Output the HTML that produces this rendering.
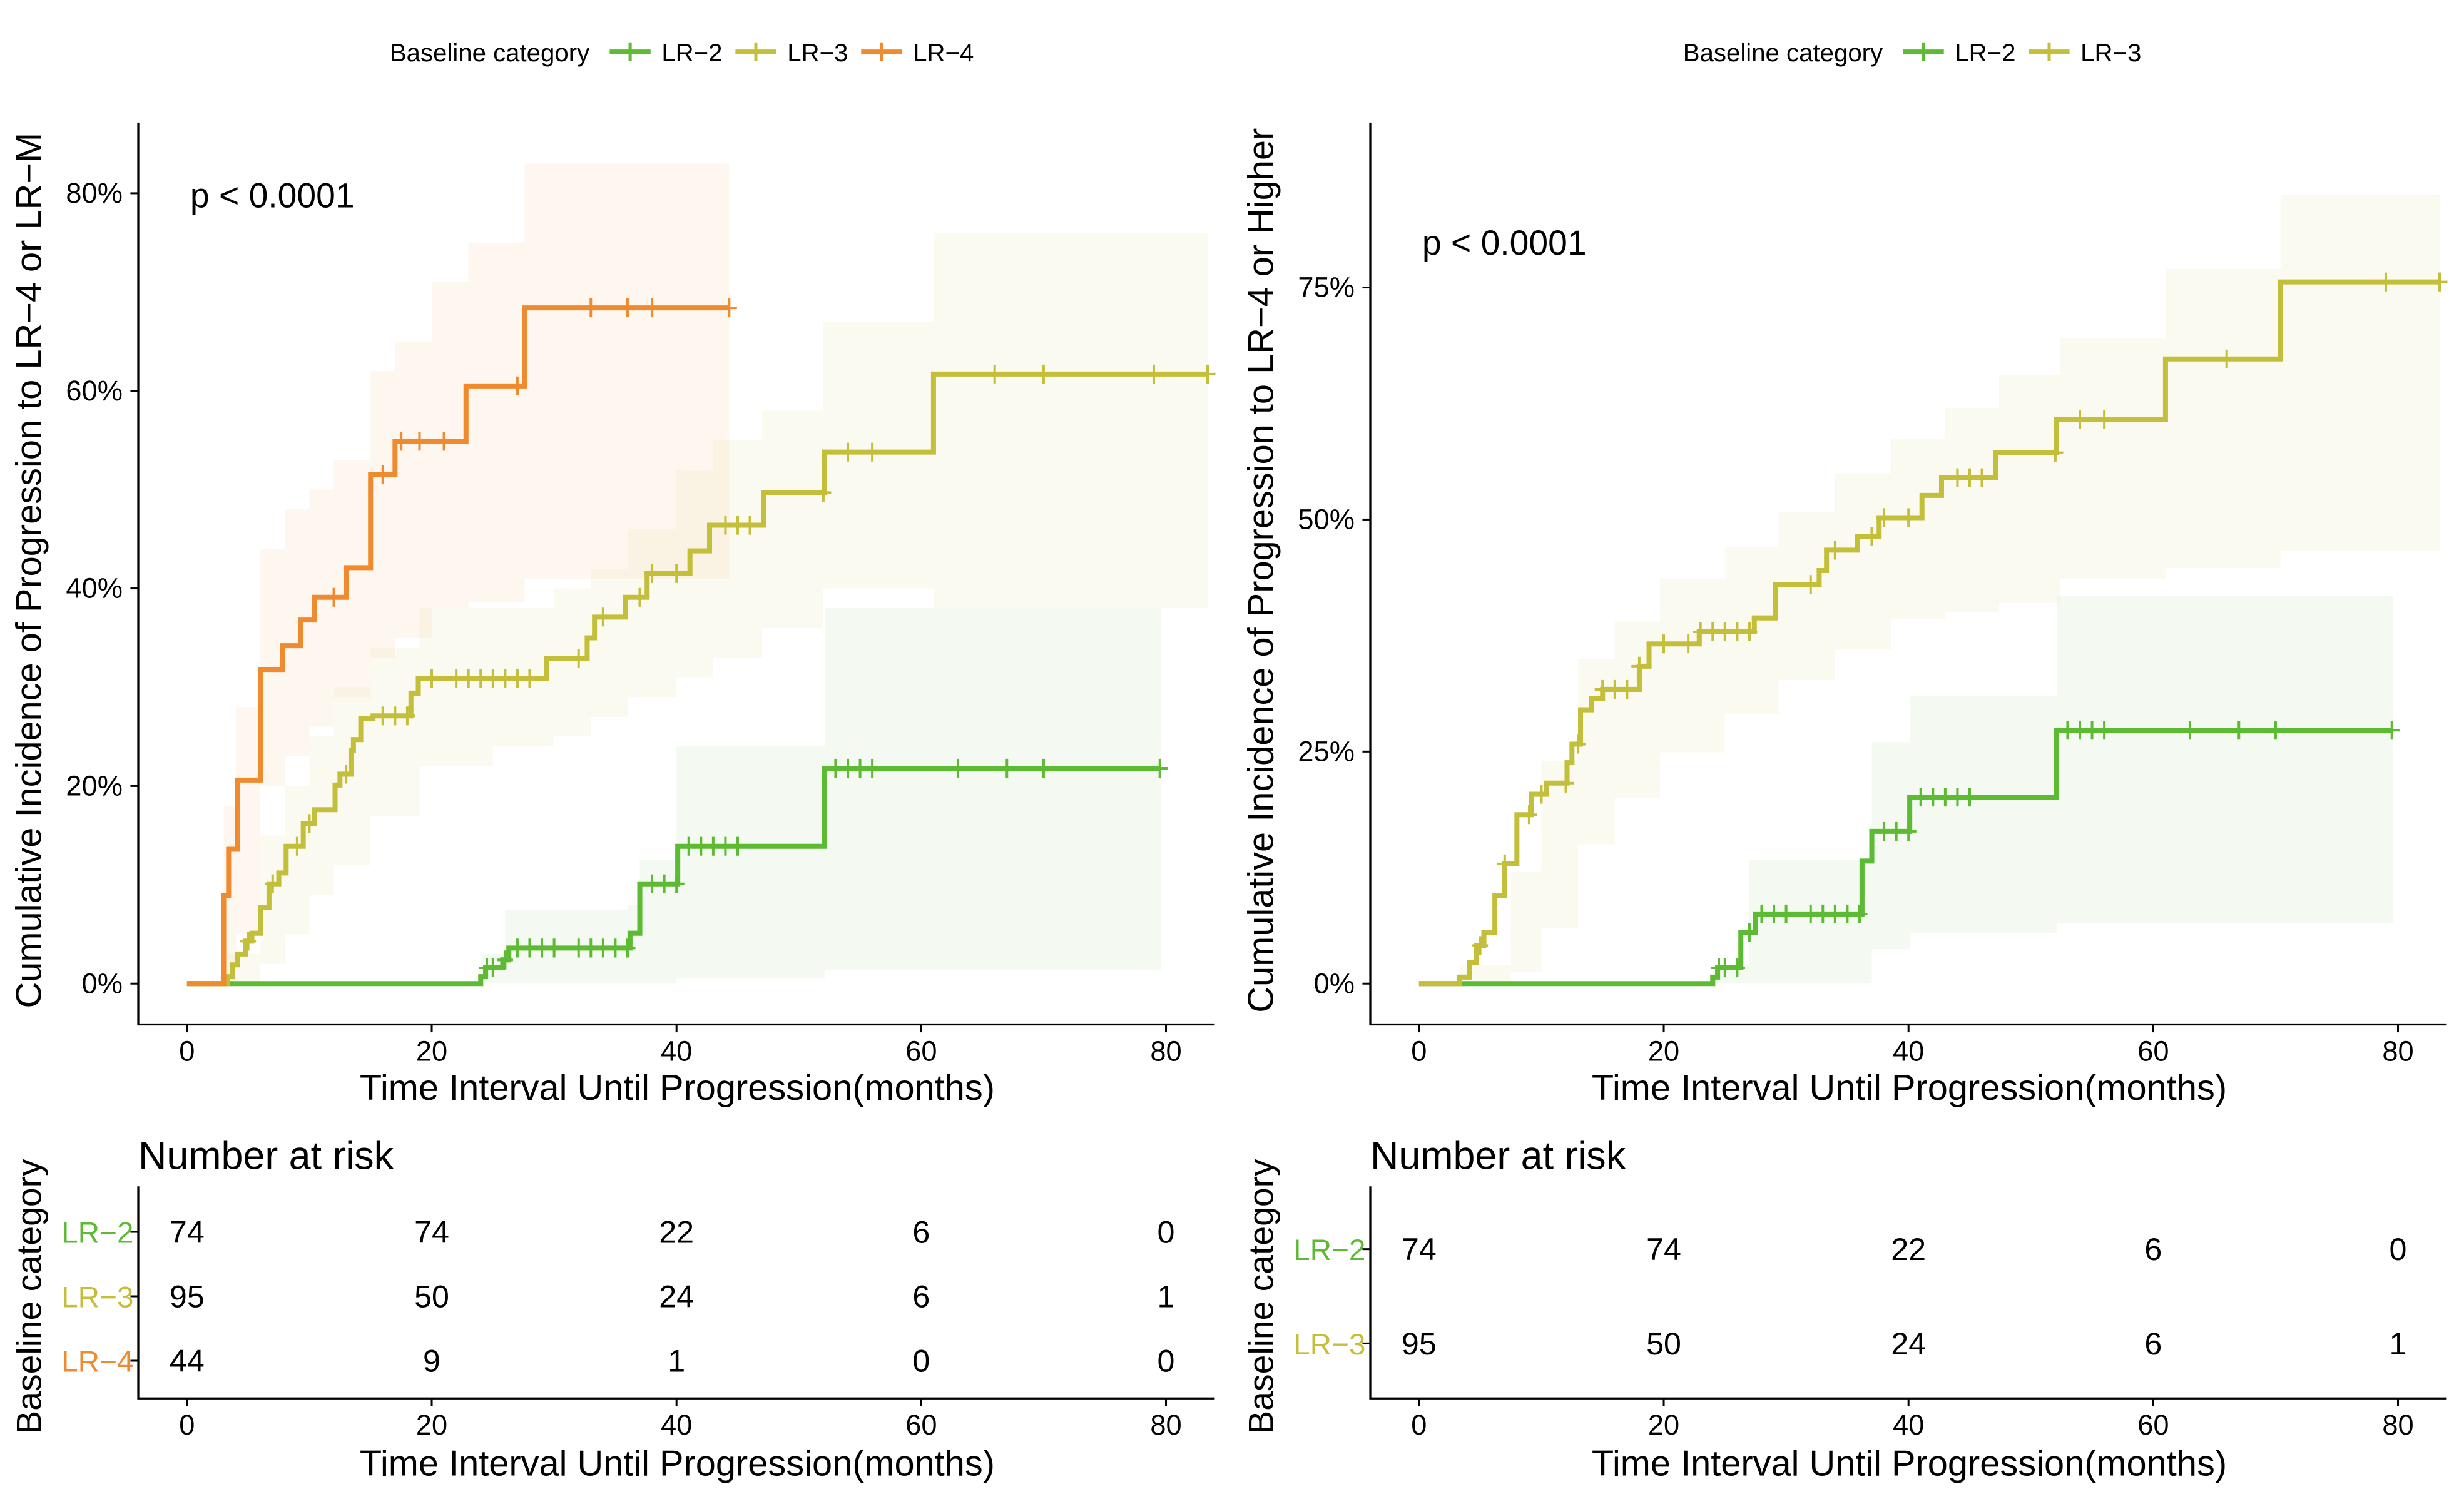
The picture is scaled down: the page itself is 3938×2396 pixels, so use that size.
<!DOCTYPE html>
<html><head><meta charset="utf-8"><style>
html,body{margin:0;padding:0;background:#fff}
svg{display:block;font-family:"Liberation Sans",Arial,sans-serif}
</style></head><body>
<svg id="chart" width="3938" height="2396" viewBox="0 0 1568 954" preserveAspectRatio="none" xmlns="http://www.w3.org/2000/svg">
<rect x="0" y="0" width="1568" height="954" fill="#fff"/>
<g id="root"></g>
</svg>
<script>
// ---- data: left panel ----
const L4_t=[3.0,3.4,4.1,6.0,7.8,9.3,10.4,13.0,15.0,17.0,22.8,27.6];
const L4_y=[8.9,13.6,20.6,31.8,34.2,36.8,39.1,42.1,51.5,54.9,60.5,68.4];
const L4_end=44.3;
const L4_cens=[12,16,17.5,19,21,27,33,36,38,44.3];
const L3_t=[3.3,3.7,4.1,4.8,5.3,6.0,6.7,7.5,8.1,9.5,10.4,12.1,12.5,13.4,13.6,14.2,15.2,18.3,18.9,29.4,32.7,33.3,35.8,37.6,41.1,42.7,47.1,52.1,61.0];
const L3_y=[0.7,1.9,3,4.3,5.1,7.7,10.1,11.2,13.9,16.2,17.6,20.1,21.2,23.6,24.7,26.8,27.1,29.4,30.9,32.9,35,37.1,39.1,41.5,43.8,46.4,49.7,53.8,61.7];
const L3_end=83.4;
const L3_cens=[5,7,9,10,13,16,17,18,20,22,23,24,25,26,27,28,32,34,37,38,40,44,45,46,52,54,56,66,70,79,83.4];
const L2_t=[24.0,24.4,25.8,26.3,36.2,37.0,40.1,52.1];
const L2_y=[0.7,1.6,2.4,3.6,5.1,10.1,13.9,21.8];
const L2_end=79.6;
const L2_cens=[24.5,25,26,27,28,29,30,32,33,34,35,36,38,39,40,41,42,43,44,45,53,54,55,56,63,67,70,79.5];
const L4_bt=[3,4,6,8,10,12,15,17,20,23,27.6,44.3];
const L4_lo=[0,5,20,23,26,29,33,35,38,38.6,41,41];
const L4_hi=[18,28,44,48,50,53,62,65,71,75,83,83];
const L3_bt=[3.3,6,8,10,12,15,19,25,30,33,36,40,43,47,52,61,83.4];
const L3_lo=[0,2,5,9,12,17,22,24,25,27,29,31,33,36,40,38,38];
const L3_hi=[3,15,20,25,30,34,38,38,40,42,46,52,55,58,67,76,76];
const L2_bt=[24,26,36,37,40,52.1,79.6];
const L2_lo=[0,0,0,0,0.5,1.4,1.4];
const L2_hi=[3,7.5,8,12.5,24,38,38];
// ---- data: right panel ----
const R3_t=[3.3,4.1,4.7,5.3,6.2,7.0,8.0,9.2,10.4,12.1,12.5,13.2,14.1,15.0,18.0,18.8,22.9,27.4,29.1,32.7,33.3,35.8,37.6,41.1,42.7,47.1,52.1,61.0,70.4];
const R3_y=[0.7,2.3,4.1,5.5,9.5,12.9,18.2,20.4,21.6,23.8,25.8,29.5,30.7,31.7,34.2,36.6,37.9,39.4,43,44.5,46.7,48.2,50.2,52.6,54.5,57.2,60.8,67.3,75.6];
const R3_end=83.4;
const R3_cens=[5,7,9,10,12,13,15,16,17,18,20,22,23,24,25,26,27,32,34,37,38,40,44,45,46,52,54,56,66,79,83.4];
const R2_t=[24.0,24.4,26.3,27.5,36.2,37.0,40.1,52.1];
const R2_y=[0.7,1.7,5.5,7.5,13.2,16.4,20.1,27.3];
const R2_end=79.6;
const R2_cens=[24.5,25,26,27,28,29,30,32,33,34,35,36,38,39,40,41,42,43,44,45,53,54,55,56,63,67,70,79.5];
const R3_bt=[3.3,7.5,10,13,16,19.7,25,29.4,34,38.6,43,47.4,52.4,61,70.4,83.4];
const R3_lo=[0,1.3,6,15,20,24.9,29,32.7,36,39.3,40,41,43.6,44.8,46.6,46.6];
const R3_hi=[2,12,24,35,39,43.6,47,50.8,55,58.7,62,65.6,69.5,77,85,85];
const R2_bt=[24,27,37,40.1,52.1,79.6];
const R2_lo=[0,0,3.7,5.5,6.5,6.5];
const R2_hi=[2,13.3,26,31,41.8,41.8];
// risk tables
const riskTimes=[0,20,40,60,80];
const riskL2=[74,74,22,6,0];
const riskL3=[95,50,24,6,1];
const riskL4=[44,9,1,0,0];
const leftYTicks=[0,20,40,60,80];
const rightYTicks=[0,25,50,75];
const xTicks=[0,20,40,60,80];

const C={g:"#5DBA33",y:"#C4BF3B",o:"#F08A2E"};
const NS="http://www.w3.org/2000/svg";
const root=document.getElementById('root');
function el(tag,attrs,parent,text){const e=document.createElementNS(NS,tag);for(const k in attrs)e.setAttribute(k,attrs[k]);if(text!==undefined)e.textContent=text;(parent||root).appendChild(e);return e;}

function panel(ox,yPerPct,legendX,legendItems,ytitle,yTicks,series,riskRows,riskYs,pY){
  const x=t=>ox+31+t*7.7875, y=v=>626-v*yPerPct;
  const g=el('g',{});
  
  
  const lg=el('g',{},g);
  
  
  const lt=el('text',{x:legendX,y:39,'font-size':16,fill:'#000'},lg,'Baseline category');
  
  
  let lx=legendX+140;
  legendItems.forEach(it=>{
    const e=el('g',{},lg);
    
    
    el('line',{x1:lx,y1:33,x2:lx+26,y2:33,stroke:it[1],'stroke-width':3},e);
    el('line',{x1:lx+13,y1:27,x2:lx+13,y2:39,stroke:it[1],'stroke-width':2},e);
    el('text',{x:lx+33,y:39,'font-size':16,fill:'#000'},e,it[0]);
    lx+=80;
  });
  series.forEach(s=>{
    let up=[],lo=[];
    for(let i=0;i<s.bt.length-1;i++){up.push([x(s.bt[i]),y(s.hi[i])],[x(s.bt[i+1]),y(s.hi[i])]);lo.push([x(s.bt[i]),y(s.lo[i])],[x(s.bt[i+1]),y(s.lo[i])]);}
    const pts=up.concat(lo.reverse()).map(p=>p.join(',')).join(' ');
    const b=el('polygon',{points:pts,fill:s.c,'fill-opacity':0.07},g);
    
    
  });
  series.forEach(s=>{
    let d='M'+x(0)+','+y(0);
    for(let i=0;i<s.t.length;i++)d+=' H'+x(s.t[i])+' V'+y(s.y[i]);
    d+=' H'+x(s.end);
    const p=el('path',{d:d,fill:'none',stroke:s.c,'stroke-width':3.2},g);
    
    
    s.cens.forEach(ct=>{
      let v=0;for(let i=0;i<s.t.length;i++)if(s.t[i]<=ct)v=s.y[i];
      const m=el('path',{d:'M'+(x(ct)-5)+','+y(v)+' h10 M'+x(ct)+','+(y(v)-6)+' v12',stroke:s.c,'stroke-width':1.6},g);
      
      
    });
  });
  const ax=el('path',{d:`M${ox},78 V652 H${ox+685}`,fill:'none',stroke:'#000','stroke-width':1.3},g);
  
  
  yTicks.forEach(v=>{
    el('line',{x1:ox-5,y1:y(v),x2:ox,y2:y(v),stroke:'#000','stroke-width':1.2},g);
    const t=el('text',{x:ox-10,y:y(v)+6,'font-size':18,'text-anchor':'end',fill:'#000'},g,v+'%');
    
    
  });
  xTicks.forEach(v=>{
    el('line',{x1:x(v),y1:652,x2:x(v),y2:657,stroke:'#000','stroke-width':1.2},g);
    const t=el('text',{x:x(v),y:675,'font-size':18,'text-anchor':'middle',fill:'#000'},g,v);
    
    
  });
  const xt=el('text',{x:ox+343,y:700,'font-size':23,'text-anchor':'middle',fill:'#000'},g,'Time Interval Until Progression(months)');
  
  
  const yt=el('text',{x:0,y:0,'font-size':23,'text-anchor':'middle',fill:'#000',transform:`translate(${ox-62},363) rotate(-90)`},g,ytitle);
  
  
  const pv=el('text',{x:ox+33,y:pY,'font-size':22,fill:'#000'},g,'p < 0.0001');
  
  
  const rt=el('g',{},g);
  
  
  el('text',{x:ox,y:744,'font-size':25,fill:'#000'},rt,'Number at risk');
  el('path',{d:`M${ox},755 V890 H${ox+685}`,fill:'none',stroke:'#000','stroke-width':1.3},rt);
  riskRows.forEach((r,ri)=>{
    const yy=riskYs[ri];
    el('text',{x:ox-3,y:yy+7,'font-size':19,'text-anchor':'end',fill:r.c},rt,r.n);
    el('line',{x1:ox-5,y1:yy,x2:ox,y2:yy,stroke:'#000','stroke-width':1.2},rt);
    r.v.forEach((v,i)=>{
      const c=el('text',{x:x(riskTimes[i]),y:yy+7,'font-size':20,'text-anchor':'middle',fill:'#000'},rt,v);
      
      
    });
  });
  xTicks.forEach(v=>{
    el('line',{x1:x(v),y1:890,x2:x(v),y2:895,stroke:'#000','stroke-width':1.2},rt);
    el('text',{x:x(v),y:913,'font-size':18,'text-anchor':'middle',fill:'#000'},rt,v);
  });
  el('text',{x:ox+343,y:939,'font-size':23,'text-anchor':'middle',fill:'#000'},rt,'Time Interval Until Progression(months)');
  el('text',{x:0,y:0,'font-size':22,'text-anchor':'middle',fill:'#000',transform:`translate(${ox-62},825) rotate(-90)`},rt,'Baseline category');
}

panel(88,6.2875,248,[['LR−2',C.g],['LR−3',C.y],['LR−4',C.o]],'Cumulative Incidence of Progression to LR−4 or LR−M',leftYTicks,
 [{n:'lr-2',c:C.g,t:L2_t,y:L2_y,end:L2_end,cens:L2_cens,bt:L2_bt,lo:L2_lo,hi:L2_hi},
  {n:'lr-3',c:C.y,t:L3_t,y:L3_y,end:L3_end,cens:L3_cens,bt:L3_bt,lo:L3_lo,hi:L3_hi},
  {n:'lr-4',c:C.o,t:L4_t,y:L4_y,end:L4_end,cens:L4_cens,bt:L4_bt,lo:L4_lo,hi:L4_hi}],
 [{n:'LR−2',c:C.g,v:riskL2},{n:'LR−3',c:C.y,v:riskL3},{n:'LR−4',c:C.o,v:riskL4}],[784,825,866],132);

panel(872,5.907,1071,[['LR−2',C.g],['LR−3',C.y]],'Cumulative Incidence of Progression to LR−4 or Higher',rightYTicks,
 [{n:'lr-2',c:C.g,t:R2_t,y:R2_y,end:R2_end,cens:R2_cens,bt:R2_bt,lo:R2_lo,hi:R2_hi},
  {n:'lr-3',c:C.y,t:R3_t,y:R3_y,end:R3_end,cens:R3_cens,bt:R3_bt,lo:R3_lo,hi:R3_hi}],
 [{n:'LR−2',c:C.g,v:riskL2},{n:'LR−3',c:C.y,v:riskL3}],[795,855],162);
</script>
</body></html>
